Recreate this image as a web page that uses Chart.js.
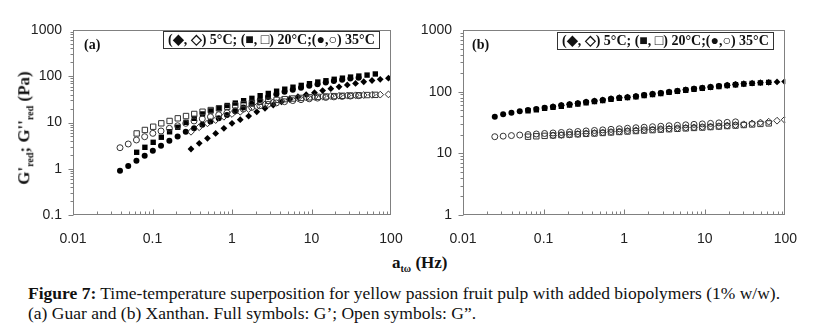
<!DOCTYPE html>
<html>
<head>
<meta charset="utf-8">
<script src="https://cdn.jsdelivr.net/npm/chart.js@4/dist/chart.umd.min.js"></script>
<style>
  body { margin: 0; background: #fff; }
  #wrap { position: relative; width: 813px; height: 330px; background: #fff; overflow: hidden; }
  canvas { position: absolute; top: 0; }
  .txt { position: absolute; font-family: "Liberation Serif", "Times New Roman", serif; color: #111; white-space: nowrap; }
  .panel { font-weight: bold; font-size: 14px; }
  .legend { font-weight: bold; font-size: 14px; border: 1px solid #333; padding: 0 4px; line-height: 16px; background: #fff; }
  .axt { font-weight: bold; font-size: 17px; }
  .axt sub { font-size: 10px; }
  .cap { font-size: 17.5px; line-height: 20px; }
</style>
</head>
<body>
<div id="wrap">
  <canvas id="chartA" width="420" height="245" style="left:0"></canvas>
  <canvas id="chartB" width="413" height="245" style="left:400px"></canvas>
  <div class="txt panel" style="left:84px;top:37px">(a)</div>
  <div class="txt legend" style="left:163px;top:31px">(◆, ◇) 5°C; (■, □) 20°C;(●,○) 35°C</div>
  <div class="txt panel" style="left:472px;top:37px">(b)</div>
  <div class="txt legend" style="left:557px;top:32px">(◆, ◇) 5°C; (■, □) 20°C;(●,○) 35°C</div>
  <div class="txt axt" style="left:25px;top:128px;transform:translate(-50%,-50%) rotate(-90deg)">G'<sub>red</sub>; G''<sub>red</sub> (Pa)</div>
  <div class="txt axt" style="left:392px;top:253px">a<sub>tω</sub> (Hz)</div>
  <div class="txt cap" style="left:28px;top:283px"><b>Figure 7:</b> Time-temperature superposition for yellow passion fruit pulp with added biopolymers (1% w/w).<br>(a) Guar and (b) Xanthan. Full symbols: G’; Open symbols: G”.</div>
</div>
<script>
// axis ticks
const xTicks = [0.01, 0.1, 1, 10, 100];
const xTickLabels = ['0.01', '0.1', '1', '10', '100'];
const yTicksA = [0.1, 1, 10, 100, 1000];
const yTickLabelsA = ['0.1', '1', '10', '100', '1000'];
const yTicksB = [1, 10, 100, 1000];
const yTickLabelsB = ['1', '10', '100', '1000'];

// (a) Guar - reduced frequency (Hz), G' and G'' (Pa)
const freqA5 = [0.305, 0.387, 0.491, 0.623, 0.791, 1.00, 1.27, 1.62, 2.05, 2.60, 3.30, 4.19, 5.32, 6.75, 8.57, 10.9, 13.8, 17.5, 22.2, 28.2, 35.8, 45.4, 57.7, 73.2, 92.9];
const gpA5 = [2.67, 3.55, 4.55, 5.8, 7.5, 9.6, 11.5, 13.8, 17, 20.3, 23.9, 28, 32, 36, 40, 44, 49, 54, 59, 65, 70, 76, 81, 86, 91];
const gppA5 = [6.3, 7.9, 9.6, 11.3, 13.3, 15.3, 17.1, 19.5, 22, 24.7, 27.3, 30, 32, 33.5, 34.8, 35.8, 36.6, 37.3, 37.9, 38.4, 38.8, 39.2, 39.6, 40, 40.5];

const freqA20 = [0.0632, 0.0802, 0.102, 0.129, 0.164, 0.208, 0.264, 0.335, 0.426, 0.540, 0.685, 0.870, 1.10, 1.40, 1.78, 2.26, 2.86, 3.64, 4.61, 5.85, 7.43, 9.43, 12.0, 15.2, 19.3, 24.5, 31.0, 39.4, 50.0, 63.5];
const gpA20 = [2.27, 2.91, 3.73, 4.8, 6.3, 7.9, 10.1, 12.3, 15.3, 17.8, 20.5, 23.3, 26.3, 29.6, 33.3, 38, 42.5, 47.5, 52.5, 58, 63.5, 69, 75, 80, 86, 91, 96, 101, 106, 112];
const gppA20 = [5.8, 6.9, 8.1, 9.6, 10.8, 12.3, 13.8, 15.3, 17.1, 18.6, 20.2, 21.8, 23.5, 25, 26.5, 28, 29.5, 30.8, 32, 33, 34, 35, 35.8, 36.5, 37.2, 37.8, 38.3, 38.8, 39.2, 39.6];

const freqA35 = [0.039, 0.0495, 0.0628, 0.0797, 0.101, 0.128, 0.163, 0.207, 0.262, 0.333, 0.423, 0.536, 0.681, 0.864, 1.10, 1.39, 1.77, 2.24, 2.84, 3.61, 4.58, 5.81, 7.38, 9.37, 11.9, 15.1, 19.1, 24.3, 30.8, 39.1];
const gpA35 = [0.91, 1.15, 1.49, 1.91, 2.45, 3.15, 4.04, 5.0, 6.3, 7.5, 8.9, 10.5, 12.4, 14.6, 17.5, 21, 25.5, 30.5, 35.5, 41, 46, 51, 56.5, 62, 67.5, 73, 78.5, 84, 89, 93];
const gppA35 = [2.85, 3.43, 4.19, 4.93, 5.83, 6.55, 7.48, 8.5, 9.6, 10.8, 12, 13.3, 14.7, 16.2, 17.8, 19.5, 21.2, 23, 24.8, 26.5, 28.2, 29.8, 31.2, 32.5, 33.7, 34.8, 35.8, 36.6, 37.3, 38];

// (b) Xanthan
const freqB5 = [0.131, 0.166, 0.210, 0.266, 0.337, 0.428, 0.542, 0.687, 0.871, 1.10, 1.40, 1.77, 2.25, 2.85, 3.61, 4.58, 5.81, 7.36, 9.33, 11.8, 15.0, 19.0, 24.1, 30.5, 38.7, 49.1, 62.2, 78.9, 98];
const gpB5 = [57, 60, 62.4, 64.7, 68, 70.6, 73.3, 76.9, 79.8, 81.5, 84, 88, 91.6, 95, 99, 103, 107, 111, 115, 119, 123, 127, 131, 134.5, 137.5, 140, 142, 144, 146];
const gppB5 = [19.5, 19.8, 20.2, 20.6, 21.0, 21.4, 21.8, 22.2, 22.7, 23.2, 23.6, 24.0, 24.4, 24.8, 25.2, 25.6, 26.0, 26.4, 26.8, 27.2, 27.6, 28.2, 28.8, 29.6, 30.6, 31.6, 32.6, 33.8, 35.0];

const freqB20 = [0.0641, 0.0813, 0.103, 0.131, 0.166, 0.210, 0.266, 0.337, 0.428, 0.542, 0.687, 0.871, 1.10, 1.40, 1.77, 2.25, 2.85, 3.61, 4.58, 5.81, 7.36, 9.33, 11.8, 15.0, 19.0, 24.1, 30.5, 38.7, 49.1, 62.2];
const gpB20 = [49, 51, 53.5, 55.5, 58, 60.5, 63, 66, 69, 71.5, 75, 78, 80, 82.5, 86.5, 90, 93.5, 97.5, 101.5, 105.5, 109.5, 113.5, 117.5, 121.5, 125.5, 129.5, 133, 136, 139, 141.5];
const gppB20 = [18.6, 18.9, 19.2, 19.5, 19.8, 20.1, 20.4, 20.7, 21.0, 21.4, 21.8, 22.2, 22.6, 23.0, 23.4, 23.8, 24.2, 24.6, 25.0, 25.4, 25.8, 26.2, 26.7, 27.2, 27.7, 28.2, 28.8, 29.4, 30.0, 30.6];

const freqB35 = [0.0248, 0.0315, 0.0399, 0.0506, 0.0641, 0.0813, 0.103, 0.131, 0.166, 0.210, 0.266, 0.337, 0.428, 0.542, 0.687, 0.871, 1.10, 1.40, 1.77, 2.25, 2.85, 3.61, 4.58, 5.81, 7.36, 9.33, 11.8, 15.0, 19.0, 24.1];
const gpB35 = [39.3, 43, 45.6, 48, 50.4, 52.4, 55, 57, 60, 62.4, 64.7, 68, 70.6, 73.3, 76.9, 79.8, 81.5, 84, 88, 91.6, 95, 99, 103, 107, 111, 115, 119, 123, 127, 131];
const gppB35 = [18.6, 19.0, 19.4, 19.8, 20.2, 20.6, 21.0, 21.4, 21.8, 22.2, 22.6, 23.1, 23.5, 24.0, 24.5, 25.0, 25.5, 26.0, 26.5, 27.0, 27.5, 28.0, 28.5, 29.0, 29.5, 30.0, 30.6, 31.2, 31.8, 32.4];

function pts(xs, ys) {
  return xs.map((x, i) => ({ x: x, y: ys[i] }));
}

function serie(xs, ys, style, filled) {
  const r = style === 'circle' ? 3 : style === 'rect' ? 3.8 : 3.4;
  return {
    data: pts(xs, ys),
    pointStyle: style,
    pointRadius: r,
    backgroundColor: filled ? '#000' : 'rgba(0,0,0,0)',
    borderColor: filled ? '#000' : '#333',
    borderWidth: filled ? 0 : 1
  };
}

// frame + minor ticks drawn by hand (x ticks inside, y ticks outside)
const frameTicks = {
  id: 'frameTicks',
  afterDraw(chart) {
    const { ctx, chartArea: a, scales } = chart;
    const xs = scales.x, ys = scales.y;
    ctx.save();
    ctx.strokeStyle = '#808080';
    ctx.lineWidth = 1;
    const L = Math.round(a.left) + 0.5, R = Math.round(a.right) - 0.5;
    const T = Math.round(a.top) + 0.5, B = Math.round(a.bottom) - 0.5;
    ctx.strokeRect(L, T, R - L, B - T);
    ctx.beginPath();
    for (let e = Math.round(Math.log10(xs.min)); e < Math.round(Math.log10(xs.max)); e++) {
      for (let m = 1; m < 10; m++) {
        const px = Math.round(xs.getPixelForValue(m * Math.pow(10, e))) + 0.5;
        const len = m === 1 ? 5 : 3;
        ctx.moveTo(px, B); ctx.lineTo(px, B - len);
      }
    }
    for (let e = Math.round(Math.log10(ys.min)); e < Math.round(Math.log10(ys.max)); e++) {
      for (let m = 1; m < 10; m++) {
        const py = Math.round(ys.getPixelForValue(m * Math.pow(10, e))) + 0.5;
        const len = m === 1 ? 5 : 3;
        ctx.moveTo(L, py); ctx.lineTo(L - len, py);
      }
    }
    ctx.stroke();
    ctx.restore();
  }
};

const tickFont = { family: '"Liberation Sans", Arial, sans-serif', size: 14 };

function makeChart(id, datasets, yMin, yMax, yTicks, yTickLabels, yWidth, padRight) {
  return new Chart(document.getElementById(id), {
    type: 'scatter',
    data: { datasets: datasets },
    options: {
      responsive: false,
      animation: false,
      layout: { padding: { top: 30, right: padRight, left: 0, bottom: 0 } },
      plugins: { legend: { display: false }, tooltip: { enabled: false } },
      scales: {
        x: {
          type: 'logarithmic', min: 0.01, max: 100,
          grid: { display: false, drawTicks: false },
          border: { display: false },
          afterBuildTicks: s => { s.ticks = xTicks.map(v => ({ value: v })); },
          afterFit: s => { s.height = 30; },
          ticks: { autoSkip: false, maxRotation: 0, padding: 16, color: '#222', font: tickFont,
                   callback: (v, i) => xTickLabels[i] }
        },
        y: {
          type: 'logarithmic', min: yMin, max: yMax,
          grid: { display: false, drawTicks: false },
          border: { display: false },
          afterBuildTicks: s => { s.ticks = yTicks.map(v => ({ value: v })); },
          afterFit: s => { s.width = yWidth; },
          ticks: { autoSkip: false, padding: 11, color: '#222', font: tickFont,
                   callback: (v, i) => yTickLabels[i] }
        }
      }
    },
    plugins: [frameTicks]
  });
}

makeChart('chartA', [
  serie(freqA35, gppA35, 'circle', false),
  serie(freqA20, gppA20, 'rect', false),
  serie(freqA5, gppA5, 'rectRot', false),
  serie(freqA35, gpA35, 'circle', true),
  serie(freqA20, gpA20, 'rect', true),
  serie(freqA5, gpA5, 'rectRot', true)
], 0.1, 1000, yTicksA, yTickLabelsA, 73, 29);

makeChart('chartB', [
  serie(freqB35, gppB35, 'circle', false),
  serie(freqB20, gppB20, 'rect', false),
  serie(freqB5, gppB5, 'rectRot', false),
  serie(freqB35, gpB35, 'circle', true),
  serie(freqB20, gpB20, 'rect', true),
  serie(freqB5, gpB5, 'rectRot', true)
], 1, 1000, yTicksB, yTickLabelsB, 63, 26);
</script>
</body>
</html>
